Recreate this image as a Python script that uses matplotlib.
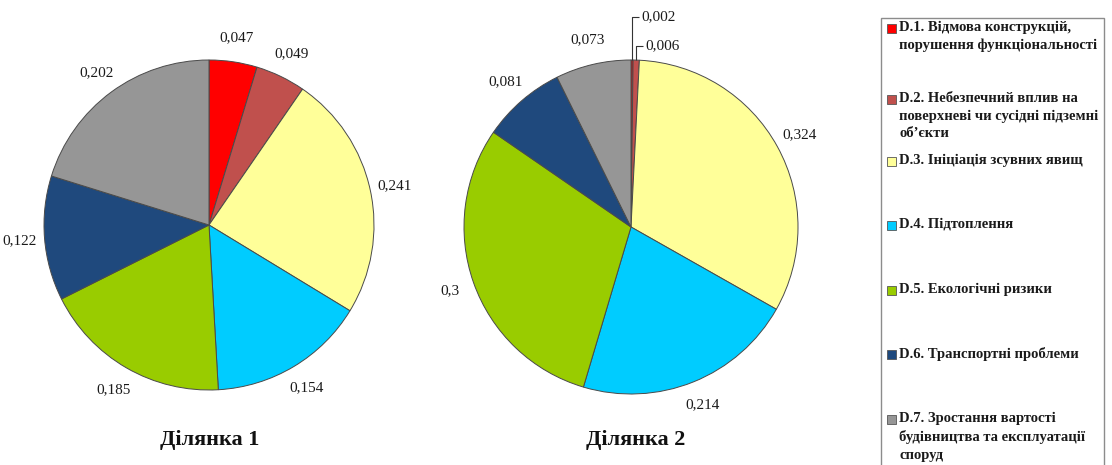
import numpy as np
import matplotlib
matplotlib.use("Agg")
import matplotlib.pyplot as plt
from matplotlib.patches import Rectangle

# Risk categories and their weights for the two sites
categories = [
    "D.1. Відмова конструкцій,\nпорушення функціональності",
    "D.2. Небезпечний вплив на\nповерхневі чи сусідні підземні\nоб’єкти",
    "D.3. Ініціація зсувних явищ",
    "D.4. Підтоплення",
    "D.5. Екологічні ризики",
    "D.6. Транспортні проблеми",
    "D.7. Зростання вартості\nбудівництва та експлуатації\nспоруд",
]
site1 = [0.047, 0.049, 0.241, 0.154, 0.185, 0.122, 0.202]
site2 = [0.002, 0.006, 0.324, 0.214, 0.300, 0.081, 0.073]
titles = ["Ділянка 1", "Ділянка 2"]
colors = ["#FF0000", "#C0504D", "#FFFF99", "#00CCFF", "#99CC00", "#1F497D", "#969696"]

W, H = 1112, 465
fig = plt.figure(figsize=(W / 100, H / 100), dpi=100)
ax = fig.add_axes([0, 0, 1, 1])

SERIF = "Liberation Serif"


def fmt(v):
    return f"{v:g}".replace(".", ",")


def draw_pie(values, cx, cy, r, small_offsets=None):
    wedges, _ = ax.pie(values, colors=colors, startangle=90, counterclock=False,
                       center=(cx, cy), radius=r, frame=True,
                       wedgeprops=dict(edgecolor="#4a4a4a", linewidth=0.7))
    for i, (w, v) in enumerate(zip(wedges, values)):
        mid = np.deg2rad((w.theta1 + w.theta2) / 2)
        if small_offsets and i in small_offsets:
            # leader line for very thin slices
            ex, ey = cx + r * np.cos(mid), cy + r * np.sin(mid)
            top = small_offsets[i]
            ax.plot([ex, ex, ex + 7], [ey, top, top], color="#333333", lw=0.8,
                    solid_capstyle="butt")
            ax.text(ex + 9, top, fmt(v), ha="left", va="center",
                    family=SERIF, fontsize=11, color="#1a1a1a")
        else:
            d = 1.15 * r
            ax.text(cx + d * np.cos(mid), cy + d * np.sin(mid), fmt(v),
                    ha="center", va="center", family=SERIF, fontsize=11,
                    color="#1a1a1a")


draw_pie(site1, 209, H - 225, 165)
draw_pie(site2, 631, H - 227, 167, small_offsets={0: H - 17, 1: H - 46})
ax.set_xlim(0, W)
ax.set_ylim(0, H)
ax.set_aspect("equal")
ax.axis("off")

ax.text(210, H - 440, titles[0], ha="center", va="center", family=SERIF,
        fontsize=16, fontweight="bold", color="#111111")
ax.text(636, H - 440, titles[1], ha="center", va="center", family=SERIF,
        fontsize=16, fontweight="bold", color="#111111")

# Legend panel
ax.add_patch(Rectangle((881, -5), 223, H - 18 + 5, facecolor="white",
                       edgecolor="#8c8c8c", lw=1.0))
entry_y = [29, 100, 162, 226, 291, 355, 420]
for label, col, y in zip(categories, colors, entry_y):
    ax.add_patch(Rectangle((887, H - y - 4.5), 9, 9, facecolor=col,
                           edgecolor="#555555", lw=0.6))
    ax.text(899, H - y + 8, label, ha="left", va="top", family=SERIF,
            fontsize=10.5, fontweight="bold", color="#1a1a1a", linespacing=1.45)

fig.savefig("out.png", dpi=100)
